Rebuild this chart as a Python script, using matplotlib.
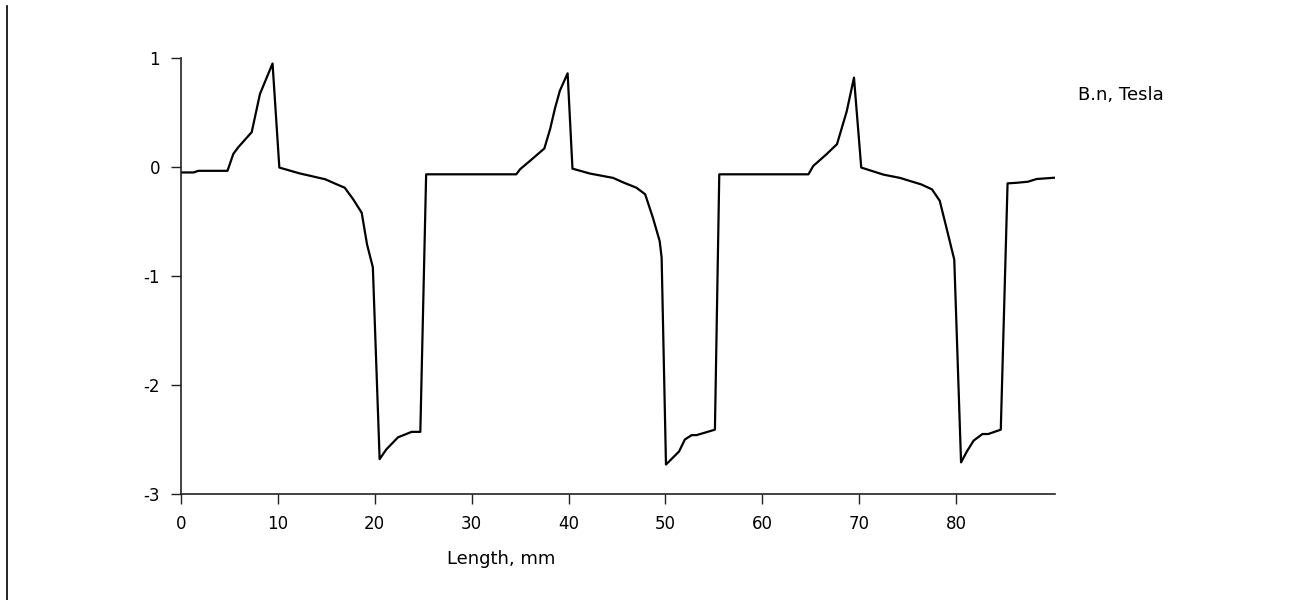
import matplotlib
matplotlib.use("Agg")
import matplotlib.pyplot as plt
from matplotlib.lines import Line2D

# Normal flux density along the measured length
length_mm = [
    0.0, 1.3, 1.8, 4.8, 5.4, 5.9, 7.3, 8.15, 9.45, 10.15,
    12.3, 13.3, 14.9, 16.1, 16.9, 17.8, 18.65, 19.2, 19.8, 20.5,
    21.2, 22.4, 23.8, 24.7, 25.3, 34.6, 35.0, 36.0, 37.5, 38.1,
    38.6, 39.1, 39.9, 40.4, 42.2, 43.4, 44.6, 45.6, 47.0, 47.9,
    48.7, 49.4, 49.6, 50.05, 51.4, 52.0, 52.7, 53.2, 55.1, 55.55,
    64.75, 65.25, 66.6, 67.7, 68.7, 69.45, 70.2, 72.5, 74.2, 76.4,
    77.5, 78.3, 79.0, 79.8, 80.5, 81.1, 81.8, 82.7, 83.3, 84.6,
    85.3, 86.2, 87.4, 88.3, 90.2,
]
b_normal = [
    -0.05, -0.05, -0.035, -0.035, 0.12, 0.18, 0.32, 0.67, 0.95, -0.005,
    -0.06, -0.08, -0.113, -0.16, -0.19, -0.30, -0.42, -0.71, -0.92, -2.68,
    -2.59, -2.48, -2.43, -2.43, -0.067, -0.067, -0.02, 0.055, 0.17, 0.35,
    0.54, 0.70, 0.86, -0.015, -0.06, -0.08, -0.10, -0.14, -0.19, -0.25,
    -0.465, -0.68, -0.83, -2.73, -2.61, -2.50, -2.46, -2.46, -2.41, -0.067,
    -0.067, 0.01, 0.116, 0.21, 0.51, 0.82, -0.005, -0.07, -0.10, -0.16,
    -0.205, -0.31, -0.56, -0.85, -2.71, -2.61, -2.51, -2.45, -2.45, -2.41,
    -0.15, -0.145, -0.135, -0.11, -0.098,
]
x_ticks = [0, 10, 20, 30, 40, 50, 60, 70, 80]
y_ticks = [-3, -2, -1, 0, 1]

plt.rcParams["font.family"] = ["DejaVu Sans"]
plt.rcParams["axes.unicode_minus"] = False

fig = plt.figure(figsize=(12.89, 6.0), dpi=100)
ax = fig.add_axes([0.1404, 0.1767, 0.6781, 0.7266])

ax.plot(length_mm, b_normal, color="black", linewidth=1.6)

ax.set_xlim(0, 90.2)
ax.set_ylim(-3, 1)
ax.set_xticks(x_ticks)
ax.set_yticks(y_ticks)

for side in ["top", "right"]:
    ax.spines[side].set_visible(False)
for side in ["left", "bottom"]:
    ax.spines[side].set_color("#222222")
    ax.spines[side].set_linewidth(1.2)

ax.tick_params(axis="both", direction="out", length=7, width=1,
               color="#222222", labelsize=12, pad=8, labelcolor="black")

# axis captions
fig.text(501 / 1289, 1 - 559 / 600, "Length, mm", ha="center", va="center",
         fontsize=13)
fig.text(1078 / 1289, 1 - 95 / 600, "B.n, Tesla", ha="left", va="center",
         fontsize=13)

# vertical rule at the left edge
fig.add_artist(Line2D([7 / 1289, 7 / 1289], [0, 1 - 6 / 600],
                      transform=fig.transFigure, color="black", linewidth=1.2))

fig.savefig("out.png", dpi=100, facecolor="white")
